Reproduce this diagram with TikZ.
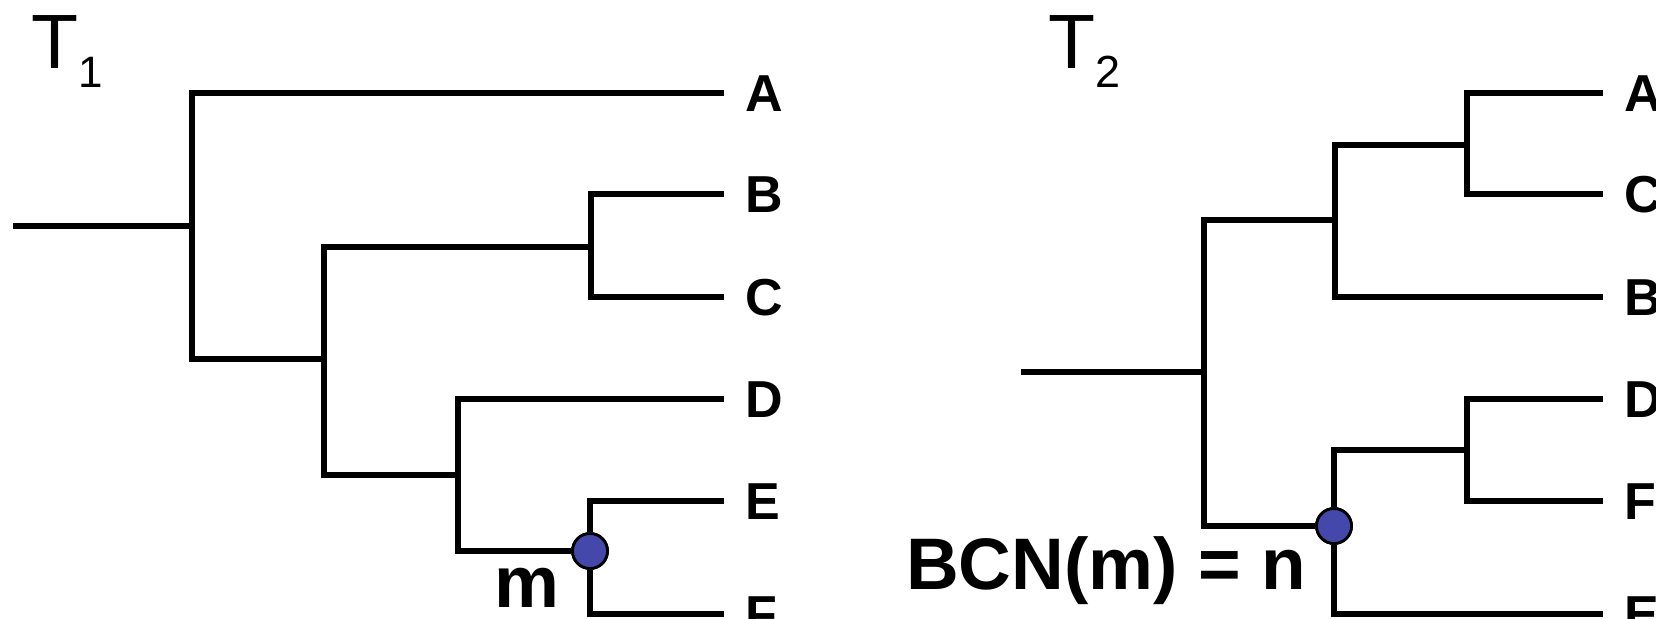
\documentclass[tikz,border=0pt]{standalone}
\usepackage{fontspec}
\setmainfont{Liberation Sans}
\definecolor{dotblue}{RGB}{68,72,170}
\begin{document}
\begin{tikzpicture}[x=1pt,y=-1pt,
  edge/.style={line width=5.5pt,line join=miter,line cap=butt},
  leaf/.style={anchor=west,inner xsep=21pt,inner ysep=0pt,text height=37pt,text depth=0pt,
    font=\bfseries\fontsize{52}{52}\selectfont},
  dot/.style={circle,draw=black,line width=2.8pt,fill=dotblue,minimum size=35pt,inner sep=0pt},
  big/.style={inner sep=0pt,font=\bfseries\fontsize{73}{73}\selectfont},
  title/.style={inner sep=0pt,anchor=base west}]
\useasboundingbox (0,0) rectangle (1656,618);
% ---------- T1 ----------
\node[title] (t1) at (31,69) {\fontsize{77}{77}\selectfont T\raisebox{-19pt}{\fontsize{44}{44}\selectfont 1}};
\coordinate (s1) at (13,226);
\coordinate (R1) at (192,226);
\coordinate (N1) at (324,359);
\coordinate (BC) at (591,247);
\coordinate (DEF) at (458,475);
\node[dot] (m) at (590,551) {};
\node[leaf] (lA) at (724,93) {A};
\node[leaf] (lB) at (724,194) {B};
\node[leaf] (lC) at (724,297) {C};
\node[leaf] (lD) at (724,399) {D};
\node[leaf] (lE) at (724,501) {E};
\node[leaf] (lF) at (724,614) {F};
\draw[edge] (s1) -- (R1);
\draw[edge] (R1) |- (lA);
\draw[edge] (R1) |- (N1);
\draw[edge] (N1) |- (BC);
\draw[edge] (N1) |- (DEF);
\draw[edge] (BC) |- (lB);
\draw[edge] (BC) |- (lC);
\draw[edge] (DEF) |- (lD);
\draw[edge] (DEF) |- (m);
\draw[edge] (m) |- (lE);
\draw[edge] (m) |- (lF);
\node[dot] at (m) {};
\node[big,anchor=base] (mlab) at (527,607) {m};
% ---------- T2 ----------
\node[title] (t2) at (1048,69) {\fontsize{77}{77}\selectfont T\raisebox{-19pt}{\fontsize{45}{45}\selectfont 2}};
\coordinate (s2) at (1021,372);
\coordinate (R2) at (1204,372);
\coordinate (N2) at (1335,220);
\coordinate (AC) at (1467,145);
\coordinate (DF) at (1467,450);
\node[dot] (n) at (1334,526) {};
\node[leaf] (rA) at (1603,93) {A};
\node[leaf] (rC) at (1603,194) {C};
\node[leaf] (rB) at (1603,297) {B};
\node[leaf] (rD) at (1603,399) {D};
\node[leaf] (rF) at (1603,501) {F};
\node[leaf] (rE) at (1603,614) {E};
\draw[edge] (s2) -- (R2);
\draw[edge] (R2) |- (N2);
\draw[edge] (R2) |- (n);
\draw[edge] (N2) |- (AC);
\draw[edge] (N2) |- (rB);
\draw[edge] (AC) |- (rA);
\draw[edge] (AC) |- (rC);
\draw[edge] (n) |- (DF);
\draw[edge] (n) |- (rE);
\draw[edge] (DF) |- (rD);
\draw[edge] (DF) |- (rF);
\node[dot] at (n) {};
\node[big,anchor=base] (bcn) at (1106,589) {BCN(m) = n};
\end{tikzpicture}
\end{document}
